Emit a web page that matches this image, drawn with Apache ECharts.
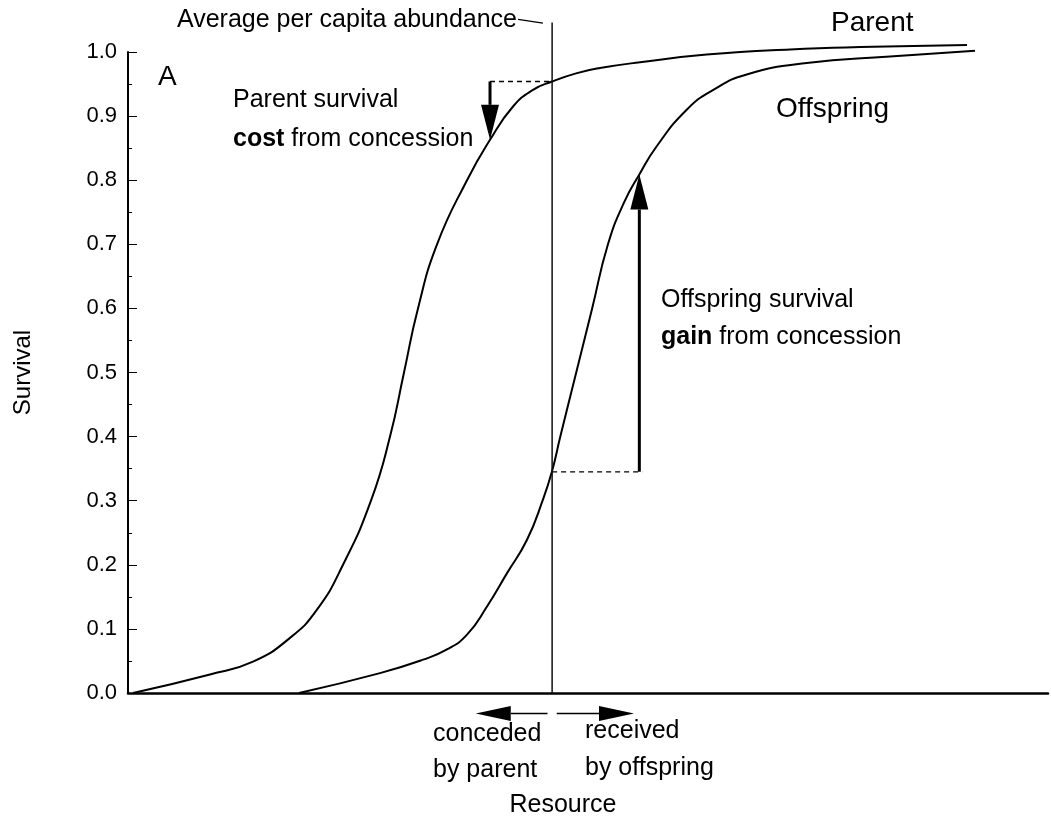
<!DOCTYPE html>
<html>
<head>
<meta charset="utf-8">
<script src="https://cdn.jsdelivr.net/npm/echarts@6/dist/echarts.min.js"></script>
<style>
  html, body { margin: 0; padding: 0; background: #fff; }
  #chart { width: 1051px; height: 819px; }
</style>
</head>
<body>
<div id="chart"></div>
<script>
'use strict'

// resource (arbitrary units 0-100) and survival
const parentX = [0.54, 8.91, 13.59, 17.61, 20.54, 23.37, 26.41, 28.48, 30.0, 31.52, 33.59, 36.85, 39.35, 41.85, 44.02, 46.09, 48.8, 51.3, 55.65, 62.9, 71.96, 81.0, 91.2]
const parentY = [0.0, 0.029, 0.049, 0.086, 0.13, 0.2, 0.3, 0.4, 0.5, 0.6, 0.7, 0.8, 0.863, 0.915, 0.941, 0.954, 0.967, 0.975, 0.984, 0.996, 1.004, 1.008, 1.011]
const offspringX = [18.59, 27.39, 32.07, 34.67, 36.85, 39.02, 41.2, 43.37, 45.11, 46.09, 46.99, 48.72, 50.45, 52.17, 53.91, 55.58, 57.47, 60.73, 63.62, 67.25, 73.77, 82.83, 92.07]
const offspringY = [0.0, 0.031, 0.052, 0.068, 0.091, 0.135, 0.187, 0.239, 0.302, 0.346, 0.4, 0.5, 0.6, 0.7, 0.765, 0.809, 0.853, 0.91, 0.941, 0.965, 0.983, 0.993, 1.002]
const yTicks = [0, 0.1, 0.2, 0.3, 0.4, 0.5, 0.6, 0.7, 0.8, 0.9, 1.0]

// average per capita abundance (vertical line)
const avgResource = 46.1
const avgTop = 1.046

// survival arrows: [x0, y0, xTip, yTip]
const survivalArrows = [
  [39.35, 0.954, 39.35, 0.863],
  [55.58, 0.345, 55.58, 0.809]
]
// resource arrows under the axis
const resourceArrows = [
  [45.6, -0.032, 37.8, -0.032],
  [46.6, -0.032, 55.0, -0.032]
]
// dashed guides: [x0, y0, x1, y1]
const dashGuides = [
  [39.35, 0.954, 46.1, 0.954],
  [46.1, 0.345, 55.9, 0.345]
]
const leaderLine = [[42.4, 1.051, 45.1, 1.045]]

const FONT = '"Liberation Sans", Arial, sans-serif'
const chart = echarts.init(document.getElementById('chart'), null, { renderer: 'canvas' })

function zip(xs, ys) {
  return xs.map((x, i) => [x, ys[i]])
}

function arrowRender(headLen, headWidth, shaft) {
  return function (params, api) {
    const p0 = api.coord([api.value(0), api.value(1)])
    const p1 = api.coord([api.value(2), api.value(3)])
    const dx = p1[0] - p0[0], dy = p1[1] - p0[1]
    const len = Math.sqrt(dx * dx + dy * dy)
    const ux = dx / len, uy = dy / len
    const bx = p1[0] - ux * headLen, by = p1[1] - uy * headLen
    const nx = -uy * headWidth / 2, ny = ux * headWidth / 2
    return {
      type: 'group',
      children: [
        { type: 'line', shape: { x1: p0[0], y1: p0[1], x2: bx, y2: by }, style: { stroke: '#000', lineWidth: shaft } },
        { type: 'polygon', shape: { points: [[p1[0], p1[1]], [bx + nx, by + ny], [bx - nx, by - ny]] }, style: { fill: '#000' } }
      ]
    }
  }
}

function segRender(dash, width) {
  return function (params, api) {
    const p0 = api.coord([api.value(0), api.value(1)])
    const p1 = api.coord([api.value(2), api.value(3)])
    return {
      type: 'line',
      shape: { x1: p0[0], y1: p0[1], x2: p1[0], y2: p1[1] },
      style: { stroke: '#000', lineWidth: width, lineDash: dash }
    }
  }
}

function txt(x, y, text, size, align, rich) {
  const style = { text: text, x: x, y: y, fill: '#000', fontSize: size, fontFamily: FONT, align: align || 'left', verticalAlign: 'middle' }
  if (rich) style.rich = { b: { fontWeight: 'bold', fontSize: size, fontFamily: FONT, fill: '#000' } }
  return { type: 'text', style: style, z: 100 }
}

const option = {
  animation: false,
  backgroundColor: '#fff',
  grid: { left: 128, right: 3, top: 52, bottom: 126, containLabel: false, outerBoundsMode: 'none' },
  xAxis: {
    type: 'value', min: 0, max: 100,
    axisLine: { show: true, lineStyle: { color: '#000', width: 2.5 } },
    axisTick: { show: false },
    axisLabel: { show: false },
    splitLine: { show: false }
  },
  yAxis: {
    type: 'value', min: 0, max: 1, interval: 0.1,
    name: 'Survival', nameLocation: 'middle', nameGap: 93, nameRotate: 90,
    nameTextStyle: { color: '#000', fontSize: 24, fontFamily: FONT },
    axisLine: { show: true, lineStyle: { color: '#000', width: 2 } },
    axisTick: { show: true, inside: true, length: 9, lineStyle: { color: '#000', width: 1 } },
    minorTick: { show: true, splitNumber: 2, length: 4, lineStyle: { color: '#000', width: 1 } },
    axisLabel: {
      color: '#000', fontSize: 22, fontFamily: FONT, margin: 11,
      formatter: v => yTicks.includes(Math.round(v * 10) / 10) ? v.toFixed(1) : ''
    },
    splitLine: { show: false }
  },
  series: [
    {
      name: 'Parent', type: 'line', data: zip(parentX, parentY), smooth: 0.5, clip: false,
      showSymbol: false, lineStyle: { color: '#000', width: 2 }
    },
    {
      name: 'Offspring', type: 'line', data: zip(offspringX, offspringY), smooth: 0.5, clip: false,
      showSymbol: false, lineStyle: { color: '#000', width: 2 }
    },
    {
      name: 'Average', type: 'line', data: [[avgResource, 0], [avgResource, avgTop]], clip: false,
      showSymbol: false, lineStyle: { color: '#111', width: 1.5 }
    },
    { type: 'custom', data: dashGuides, clip: false, renderItem: segRender([5, 4], 1.3) },
    { type: 'custom', data: leaderLine, clip: false, renderItem: segRender(null, 1.3) },
    { type: 'custom', data: survivalArrows, clip: false, renderItem: arrowRender(35, 18, 3) },
    { type: 'custom', data: resourceArrows, clip: false, renderItem: arrowRender(35, 15, 1.5) }
  ],
  graphic: [
    txt(517, 20.5, 'Average per capita abundance', 25, 'right'),
    txt(158, 77, 'A', 28),
    txt(233, 100.5, 'Parent survival', 25),
    txt(233, 139, '{b|cost} from concession', 25, 'left', true),
    txt(831, 23.7, 'Parent', 28),
    txt(776, 109.7, 'Offspring', 28),
    txt(661, 300, 'Offspring survival', 25),
    txt(661, 336.7, '{b|gain} from concession', 25, 'left', true),
    txt(433, 733.8, 'conceded', 25),
    txt(433, 770, 'by parent', 25),
    txt(585, 731.3, 'received', 25),
    txt(585, 768, 'by offspring', 25),
    txt(563, 805, 'Resource', 25, 'center')
  ]
}

chart.setOption(option)
</script>
</body>
</html>
